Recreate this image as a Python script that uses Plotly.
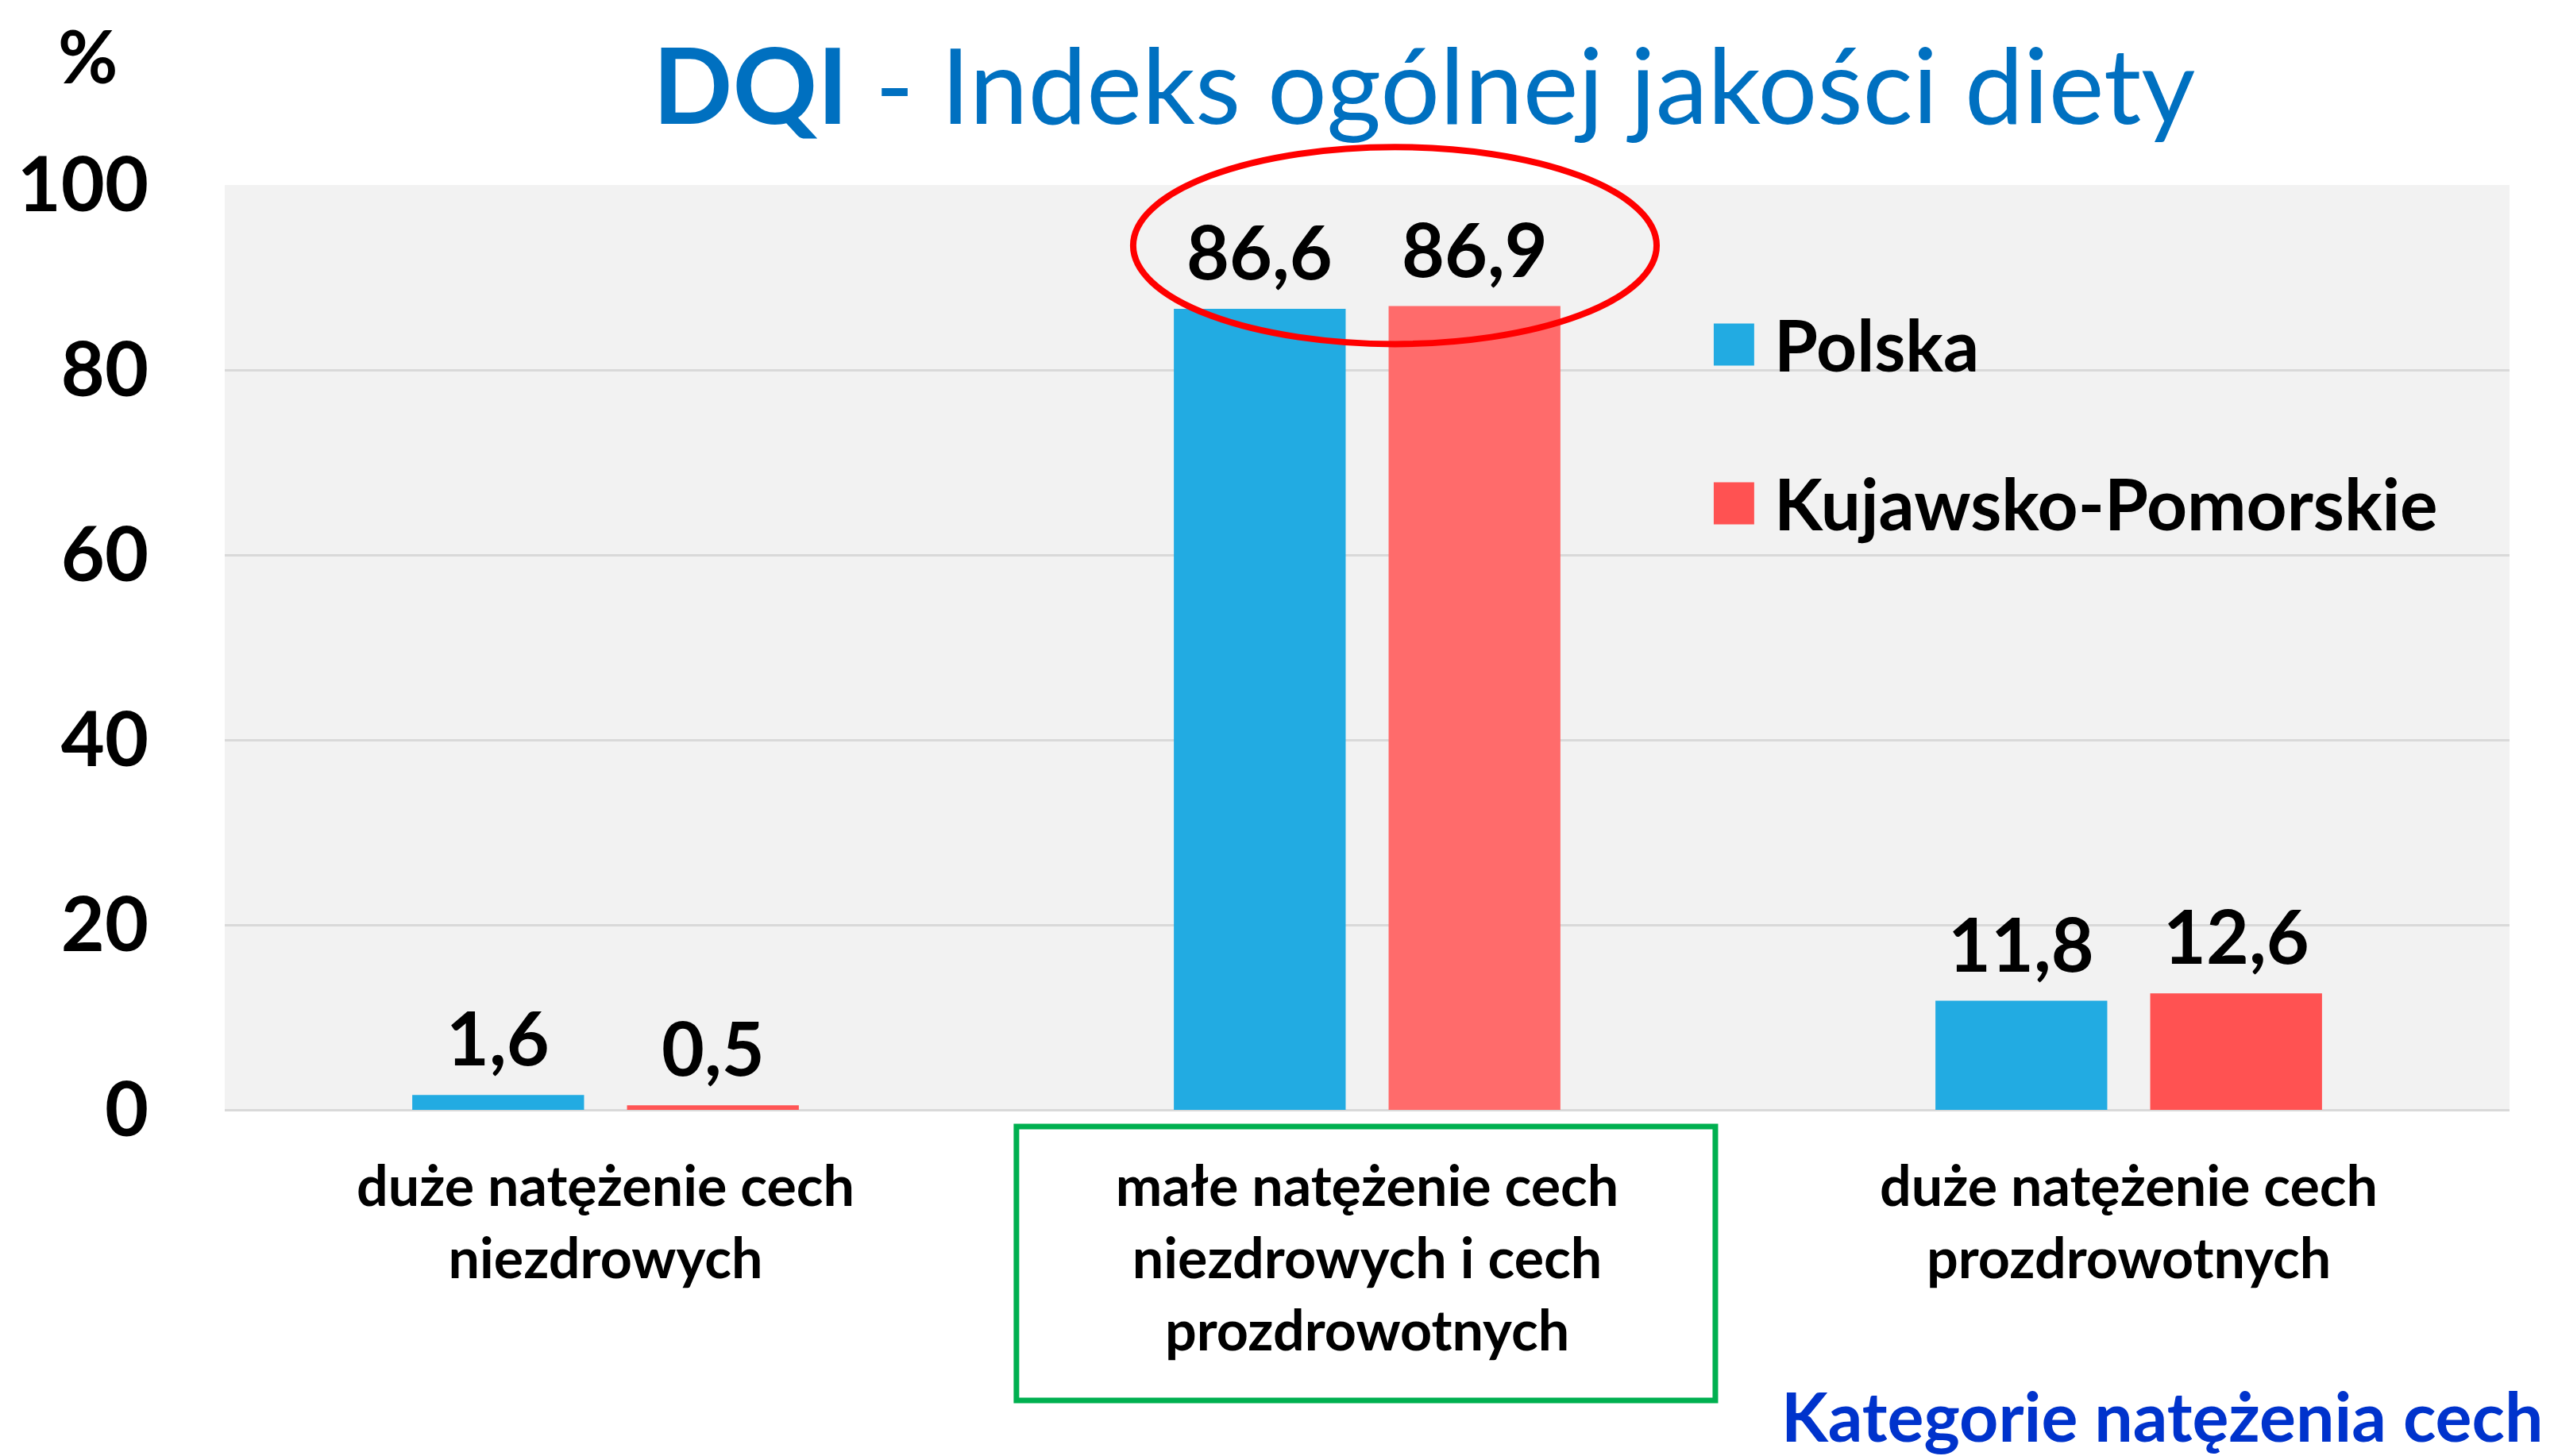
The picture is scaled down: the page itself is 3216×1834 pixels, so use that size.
import plotly.graph_objects as go

# ---- data ----
categories = [
    "duże natężenie cech<br>niezdrowych",
    "małe natężenie cech<br>niezdrowych i cech<br>prozdrowotnych",
    "duże natężenie cech<br>prozdrowotnych",
]
series_names = ["Polska", "Kujawsko-Pomorskie"]
polska = [1.6, 86.6, 11.8]
kujawsko = [0.5, 86.9, 12.6]
y_tick_values = [0, 20, 40, 60, 80, 100]

# ---- styles ----
W, H = 3208, 1826
ML, MR, MT, MB = 275, 56, 225, 436
FONT = "Lato"
BLUE = "#22ABE2"
RED_COLORS = ["#FF5555", "#FF6B6B", "#FF5252"]
RED_LEGEND = "#FF5252"
BARGAP = 0.436
BARGROUPGAP = 0.2

x_pos = list(range(len(categories)))

fig = go.Figure()
fig.add_trace(go.Bar(x=x_pos, y=polska, name=series_names[0],
                     marker=dict(color=BLUE, line=dict(width=0)), showlegend=False))
fig.add_trace(go.Bar(x=x_pos, y=kujawsko, name=series_names[1],
                     marker=dict(color=RED_COLORS, line=dict(width=0)), showlegend=False))

annotations = []
slot = (1 - BARGAP) / 2
for j, vals in enumerate([polska, kujawsko]):
    for i, v in enumerate(vals):
        annotations.append(dict(
            x=x_pos[i] + (j - 0.5) * slot, y=v, xref="x", yref="y",
            text=f"{v:.1f}".replace(".", ","), showarrow=False,
            xanchor="center", yanchor="bottom", yshift=15,
            font=dict(family=FONT, size=93, color="black", weight="bold")))

# title
annotations.append(dict(
    x=0.525, y=1.11, xref="paper", yref="paper", showarrow=False,
    xanchor="center", yanchor="middle",
    text="<b>DQI</b> - Indeks ogólnej jakości diety",
    font=dict(family=FONT, size=132, color="#0070C0")))
# % label
annotations.append(dict(
    x=-0.06, y=1.14, xref="paper", yref="paper", showarrow=False,
    xanchor="center", yanchor="middle", text="%",
    font=dict(family=FONT, size=92, color="black", weight="bold")))
# axis category title
annotations.append(dict(
    x=1.0153, y=-0.33, xref="paper", yref="paper", showarrow=False,
    xanchor="right", yanchor="middle", text="Kategorie natężenia cech",
    font=dict(family=FONT, size=86, color="#0033CC", weight="bold")))

# custom legend
legend_colors = [BLUE, RED_LEGEND]
legend_y = [0.8275, 0.6558]
shapes = []
for name, col, yc in zip(series_names, legend_colors, legend_y):
    shapes.append(dict(type="rect", xref="paper", yref="paper",
                       x0=0.6517, x1=0.6694, y0=yc - 0.0228, y1=yc + 0.0228,
                       fillcolor=col, line=dict(width=0)))
    annotations.append(dict(
        x=0.6775, y=yc, xref="paper", yref="paper", showarrow=False,
        xanchor="left", yanchor="middle", text=name,
        font=dict(family=FONT, size=89, color="black", weight="bold")))

# red ellipse and green box
shapes.append(dict(type="circle", xref="paper", yref="paper",
                   x0=0.3976, x1=0.6267, y0=0.828, y1=1.041,
                   line=dict(color="#FF0000", width=8), layer="above"))
shapes.append(dict(type="rect", xref="paper", yref="paper",
                   x0=0.3465, x1=0.6524, y0=-0.3142, y1=-0.018,
                   line=dict(color="#00B050", width=7)))

fig.update_layout(
    width=W, height=H,
    margin=dict(l=ML, r=MR, t=MT, b=MB, pad=0),
    paper_bgcolor="white", plot_bgcolor="#F2F2F2",
    barmode="group", bargap=BARGAP, bargroupgap=BARGROUPGAP,
    showlegend=False,
    font=dict(family=FONT, color="black"),
    annotations=annotations, shapes=shapes,
    xaxis=dict(range=[-0.5, 2.5], tickvals=x_pos, ticktext=categories,
               showgrid=False, zeroline=False, showline=False, ticks="",
               ticklabelstandoff=50,
               tickfont=dict(family=FONT, size=70, color="black", weight="bold")),
    yaxis=dict(range=[0, 100], tickvals=y_tick_values, showgrid=True,
               gridcolor="#D9D9D9", gridwidth=3, zeroline=True,
               zerolinecolor="#D9D9D9", zerolinewidth=3, showline=False,
               ticks="", ticklabelstandoff=95,
               tickfont=dict(family=FONT, size=95, color="black", weight="bold")),
)

fig.write_html("out.html")
